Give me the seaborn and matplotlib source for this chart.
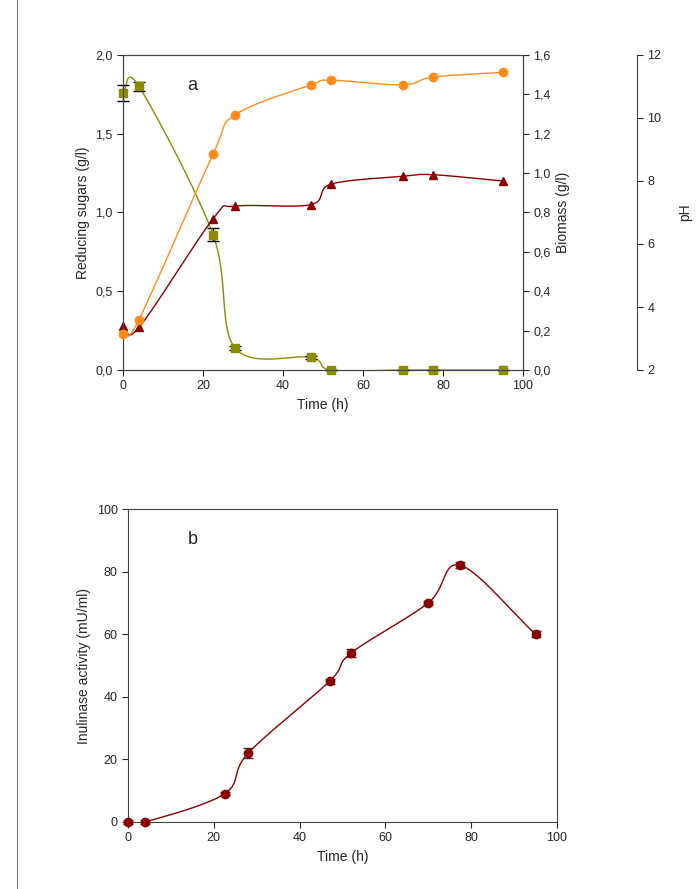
import numpy as np
import matplotlib
matplotlib.use("Agg")
import matplotlib.pyplot as plt
import seaborn as sns

sns.set_style("ticks")
plt.rcParams['font.family'] = ['Liberation Sans', 'DejaVu Sans']

time = [0, 4, 22.5, 28, 47, 52, 70, 77.5, 95]
sugar = [1.76, 1.80, 0.86, 0.14, 0.08, 0.0, 0.0, 0.0, 0.0]
sugar_err = [0.05, 0.03, 0.04, 0.01, 0.01, 0, 0, 0, 0]
biomass = [0.224, 0.216, 0.768, 0.832, 0.84, 0.944, 0.984, 0.992, 0.96]
ph = [3.15, 3.6, 8.85, 10.1, 11.05, 11.2, 11.05, 11.3, 11.45]
inulinase = [0, 0, 9, 22, 45, 54, 70, 82, 60]
inulinase_err = [0.5, 0.5, 0.5, 1.6, 0.8, 1.3, 0.6, 1.0, 1.0]


def smooth(x, y, n=30):
    # Catmull-Rom through the points
    x = np.asarray(x, float); y = np.asarray(y, float)
    px = np.r_[2 * x[0] - x[1], x, 2 * x[-1] - x[-2]]
    py = np.r_[2 * y[0] - y[1], y, 2 * y[-1] - y[-2]]
    xs, ys = [], []
    t = np.linspace(0, 1, n)
    for i in range(1, len(px) - 2):
        for p, out in ((px, xs), (py, ys)):
            p0, p1, p2, p3 = p[i - 1], p[i], p[i + 1], p[i + 2]
            out.extend(0.5 * (2 * p1 + (-p0 + p2) * t + (2 * p0 - 5 * p1 + 4 * p2 - p3) * t ** 2
                              + (-p0 + 3 * p1 - 3 * p2 + p3) * t ** 3))
    return np.array(xs), np.array(ys)


comma = matplotlib.ticker.FuncFormatter(lambda v, p: f"{v:.1f}".replace(".", ","))

fig = plt.figure(figsize=(6.97, 8.89), dpi=100)
olive, orange, dred = "#8c8c00", "#ff8c1a", "#8b0000"

ax = fig.add_axes([123 / 697, 1 - 370 / 889, 400 / 697, 315 / 889])
sx, sy = smooth(time, sugar)
sns.lineplot(x=sx, y=sy, ax=ax, color=olive, lw=1, sort=False)
eb = ax.errorbar(time, sugar, yerr=sugar_err, fmt="s", color=olive, ms=6, ecolor="black",
                 elinewidth=1, capsize=4, zorder=5)
for art in eb.get_children():
    art.set_clip_on(False)
ax.set_xlim(0, 100); ax.set_ylim(0, 2)
ax.set_yticks(np.arange(0, 2.01, 0.5))
ax.yaxis.set_major_formatter(comma)
ax.set_xlabel("Time (h)", fontsize=10)
ax.set_ylabel("Reducing sugars (g/l)", fontsize=10)
ax.text(0.16, 0.93, "a", transform=ax.transAxes, fontsize=13, va="top")

ax2 = ax.twinx()
bx, by = smooth(time, biomass)
sns.lineplot(x=bx, y=by, ax=ax2, color=dred, lw=1, sort=False)
ax2.plot(time, biomass, "^", color=dred, ms=6, clip_on=False)
ax2.set_ylim(0, 1.6)
ax2.set_yticks(np.arange(0, 1.61, 0.2))
ax2.yaxis.set_major_formatter(comma)
ax2.set_ylabel("Biomass (g/l)", fontsize=10)

ax3 = ax.twinx()
ax3.spines["right"].set_position(("axes", (637 - 123) / 400))
px_, py_ = smooth(time, ph)
sns.lineplot(x=px_, y=py_, ax=ax3, color=orange, lw=1, sort=False)
ax3.plot(time, ph, "o", color=orange, ms=6, clip_on=False)
ax3.set_ylim(2, 12)
ax3.set_yticks(range(2, 13, 2))
ax3.set_ylabel("pH", fontsize=10, labelpad=12)
for a in (ax, ax2, ax3):
    a.tick_params(labelsize=9, length=4)
    for s in a.spines.values():
        s.set_color("#444444")
ax3.spines["top"].set_visible(False); ax3.spines["left"].set_visible(False)
ax3.spines["bottom"].set_visible(False)

bx_ = fig.add_axes([128 / 697, 1 - 822 / 889, 429 / 697, 313 / 889])
ix, iy = smooth(time, inulinase)
sns.lineplot(x=ix, y=iy, ax=bx_, color=dred, lw=1, sort=False)
eb2 = bx_.errorbar(time, inulinase, yerr=inulinase_err, fmt="o", color=dred, ms=6,
                   ecolor="#333333", elinewidth=1, capsize=3.5, zorder=5)
for art in eb2.get_children():
    art.set_clip_on(False)
bx_.set_xlim(0, 100); bx_.set_ylim(0, 100)
bx_.set_xlabel("Time (h)", fontsize=10)
bx_.set_ylabel("Inulinase activity (mU/ml)", fontsize=10)
bx_.text(0.14, 0.93, "b", transform=bx_.transAxes, fontsize=13, va="top")
bx_.tick_params(labelsize=9, length=4)
for s in bx_.spines.values():
    s.set_color("#444444")

fig.add_artist(plt.Line2D([17 / 697, 17 / 697], [0, 1], color="#777777", lw=0.8))
fig.savefig("out.png", dpi=100)
